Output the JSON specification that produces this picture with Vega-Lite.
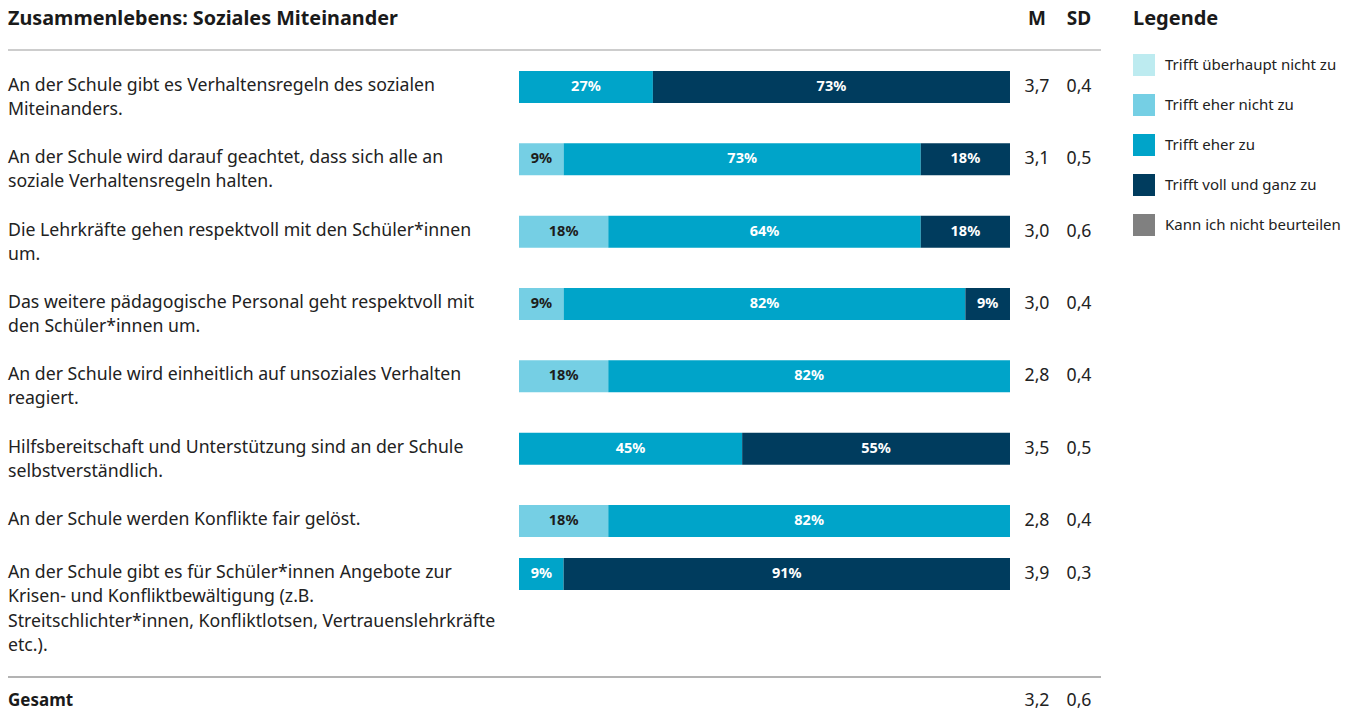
{
  "$schema": "https://vega.github.io/schema/vega-lite/v6.json",
  "padding": 0,
  "background": "white",
  "spacing": 0,
  "bounds": "flush",
  "config": {
    "view": {"stroke": null},
    "font": "Noto Sans",
    "locale": {"number": {"decimal": ",", "thousands": ".", "grouping": [3], "currency": ["", " €"]}}
  },
  "resolve": {"scale": {"color": "shared"}, "legend": {"color": "shared"}},
  "datasets": {
    "bars": [
      {"nr": 1, "k": 3, "cat": "Trifft eher zu", "pct": 0.2727},
      {"nr": 1, "k": 4, "cat": "Trifft voll und ganz zu", "pct": 0.7273},
      {"nr": 2, "k": 2, "cat": "Trifft eher nicht zu", "pct": 0.0909},
      {"nr": 2, "k": 3, "cat": "Trifft eher zu", "pct": 0.7273},
      {"nr": 2, "k": 4, "cat": "Trifft voll und ganz zu", "pct": 0.1818},
      {"nr": 3, "k": 2, "cat": "Trifft eher nicht zu", "pct": 0.1818},
      {"nr": 3, "k": 3, "cat": "Trifft eher zu", "pct": 0.6364},
      {"nr": 3, "k": 4, "cat": "Trifft voll und ganz zu", "pct": 0.1818},
      {"nr": 4, "k": 2, "cat": "Trifft eher nicht zu", "pct": 0.0909},
      {"nr": 4, "k": 3, "cat": "Trifft eher zu", "pct": 0.8182},
      {"nr": 4, "k": 4, "cat": "Trifft voll und ganz zu", "pct": 0.0909},
      {"nr": 5, "k": 2, "cat": "Trifft eher nicht zu", "pct": 0.1818},
      {"nr": 5, "k": 3, "cat": "Trifft eher zu", "pct": 0.8182},
      {"nr": 6, "k": 3, "cat": "Trifft eher zu", "pct": 0.4545},
      {"nr": 6, "k": 4, "cat": "Trifft voll und ganz zu", "pct": 0.5455},
      {"nr": 7, "k": 2, "cat": "Trifft eher nicht zu", "pct": 0.1818},
      {"nr": 7, "k": 3, "cat": "Trifft eher zu", "pct": 0.8182},
      {"nr": 8, "k": 3, "cat": "Trifft eher zu", "pct": 0.0909},
      {"nr": 8, "k": 4, "cat": "Trifft voll und ganz zu", "pct": 0.9091}
    ],
    "items": [
      {"nr": 1, "q": "An der Schule gibt es Verhaltensregeln des sozialen\nMiteinanders.", "M": 3.7, "SD": 0.4},
      {"nr": 2, "q": "An der Schule wird darauf geachtet, dass sich alle an\nsoziale Verhaltensregeln halten.", "M": 3.1, "SD": 0.5},
      {"nr": 3, "q": "Die Lehrkräfte gehen respektvoll mit den Schüler*innen\num.", "M": 3.0, "SD": 0.6},
      {"nr": 4, "q": "Das weitere pädagogische Personal geht respektvoll mit\nden Schüler*innen um.", "M": 3.0, "SD": 0.4},
      {"nr": 5, "q": "An der Schule wird einheitlich auf unsoziales Verhalten\nreagiert.", "M": 2.8, "SD": 0.4},
      {"nr": 6, "q": "Hilfsbereitschaft und Unterstützung sind an der Schule\nselbstverständlich.", "M": 3.5, "SD": 0.5},
      {"nr": 7, "q": "An der Schule werden Konflikte fair gelöst.", "M": 2.8, "SD": 0.4},
      {"nr": 8, "q": "An der Schule gibt es für Schüler*innen Angebote zur\nKrisen- und Konfliktbewältigung (z.B.\nStreitschlichter*innen, Konfliktlotsen, Vertrauenslehrkräfte\netc.).", "M": 3.9, "SD": 0.3}
    ],
    "total": [{"label": "Gesamt", "M": 3.2, "SD": 0.6}],
    "header": [{"title": "Zusammenlebens: Soziales Miteinander", "m": "M", "sd": "SD"}]
  },
  "vconcat": [
    {
      "width": 1352,
      "height": 50,
      "data": {"name": "header"},
      "layer": [
        {
          "mark": {"type": "text", "align": "left", "baseline": "middle", "fontSize": 19.8, "fontWeight": "bold", "color": "#1a1a1a"},
          "encoding": {
            "x": {"datum": -1.04073, "type": "quantitative", "scale": {"domain": [-1.05703, 1.69654], "nice": false, "zero": false}, "axis": null},
            "y": {"datum": 0.63, "type": "quantitative", "scale": {"domain": [0, 1], "nice": false}, "axis": null},
            "text": {"field": "title"}
          }
        },
        {
          "mark": {"type": "text", "align": "center", "baseline": "middle", "fontSize": 19, "fontWeight": "bold", "color": "#1a1a1a"},
          "encoding": {
            "x": {"datum": 1.05499, "type": "quantitative", "scale": {"domain": [-1.05703, 1.69654], "nice": false, "zero": false}, "axis": null},
            "y": {"datum": 0.63, "type": "quantitative", "scale": {"domain": [0, 1], "nice": false}, "axis": null},
            "text": {"field": "m"}
          }
        },
        {
          "mark": {"type": "text", "align": "center", "baseline": "middle", "fontSize": 19, "fontWeight": "bold", "color": "#1a1a1a"},
          "encoding": {
            "x": {"datum": 1.14053, "type": "quantitative", "scale": {"domain": [-1.05703, 1.69654], "nice": false, "zero": false}, "axis": null},
            "y": {"datum": 0.63, "type": "quantitative", "scale": {"domain": [0, 1], "nice": false}, "axis": null},
            "text": {"field": "sd"}
          }
        },
        {
          "mark": {"type": "rule", "color": "#bdbdbd", "strokeWidth": 1.5},
          "encoding": {
            "x": {"datum": -1.04073, "type": "quantitative", "scale": {"domain": [-1.05703, 1.69654], "nice": false, "zero": false}, "axis": null},
            "x2": {"datum": 1.18534},
            "y": {"datum": 0, "type": "quantitative", "scale": {"domain": [0, 1], "nice": false}, "axis": null}
          }
        }
      ]
    },
    {
      "width": 1352,
      "height": 505,
      "layer": [
        {
          "data": {"name": "bars"},
          "transform": [{"filter": "datum.nr <= 7"}],
          "mark": {"type": "bar"},
          "encoding": {
            "y": {"field": "nr", "type": "ordinal", "axis": null, "scale": {"paddingInner": 0.5576, "paddingOuter": 0.2698, "align": 0.538}},
            "x": {"field": "pct", "type": "quantitative", "stack": "zero", "scale": {"domain": [-1.05703, 1.69654], "nice": false, "zero": false}, "axis": null},
            "order": {"field": "k"},
            "color": {
              "field": "cat", "type": "nominal",
              "scale": {"domain": ["Trifft überhaupt nicht zu", "Trifft eher nicht zu", "Trifft eher zu", "Trifft voll und ganz zu", "Kann ich nicht beurteilen"], "range": ["#bdebf0", "#75cfe4", "#00a4c9", "#003c5e", "#808080"]},
              "legend": {"title": "Legende", "orient": "none", "legendX": 1133, "legendY": 9, "symbolType": "square", "symbolSize": 484, "symbolStrokeWidth": 0, "symbolOpacity": 1, "rowPadding": 18, "labelOffset": 10, "labelFontSize": 15, "labelFont": "Noto Sans", "labelColor": "#222222", "titleFontSize": 20, "titleFont": "Noto Sans", "titleFontWeight": "bold", "titleColor": "#1a1a1a", "titlePadding": 25, "labelLimit": 300, "padding": 0}
            }
          }
        },
        {
          "data": {"name": "bars"},
          "transform": [{"filter": "datum.nr <= 7"}],
          "mark": {"type": "text", "fontSize": 14.5, "fontWeight": "bold", "baseline": "middle", "align": "center"},
          "encoding": {
            "y": {"field": "nr", "type": "ordinal", "axis": null, "scale": {"paddingInner": 0.5576, "paddingOuter": 0.2698, "align": 0.538}},
            "x": {"field": "pct", "type": "quantitative", "stack": "zero", "bandPosition": 0.5, "scale": {"domain": [-1.05703, 1.69654], "nice": false, "zero": false}, "axis": null},
            "order": {"field": "k"},
            "detail": {"field": "k"},
            "text": {"field": "pct", "format": ".0%"},
            "color": {"condition": {"test": "datum.k == 2", "value": "#1d1d1b"}, "value": "#ffffff"}
          }
        },
        {
          "data": {"name": "items"},
          "transform": [{"filter": "datum.nr <= 7"}],
          "mark": {"type": "text", "align": "left", "baseline": "line-top", "lineHeight": 24, "lineBreak": "\n", "fontSize": 17.7, "dy": 3, "color": "#222222"},
          "encoding": {
            "y": {"field": "nr", "type": "ordinal", "bandPosition": 0, "axis": null, "scale": {"paddingInner": 0.5576, "paddingOuter": 0.2698, "align": 0.538}},
            "x": {"datum": -1.04073, "type": "quantitative", "scale": {"domain": [-1.05703, 1.69654], "nice": false, "zero": false}, "axis": null},
            "text": {"field": "q"}
          }
        },
        {
          "data": {"name": "items"},
          "transform": [{"filter": "datum.nr <= 7"}],
          "mark": {"type": "text", "align": "center", "baseline": "middle", "fontSize": 17.7, "color": "#222222"},
          "encoding": {
            "y": {"field": "nr", "type": "ordinal", "axis": null, "scale": {"paddingInner": 0.5576, "paddingOuter": 0.2698, "align": 0.538}},
            "x": {"datum": 1.05499, "type": "quantitative", "scale": {"domain": [-1.05703, 1.69654], "nice": false, "zero": false}, "axis": null},
            "text": {"field": "M", "format": ".1f"}
          }
        },
        {
          "data": {"name": "items"},
          "transform": [{"filter": "datum.nr <= 7"}],
          "mark": {"type": "text", "align": "center", "baseline": "middle", "fontSize": 17.7, "color": "#222222"},
          "encoding": {
            "y": {"field": "nr", "type": "ordinal", "axis": null, "scale": {"paddingInner": 0.5576, "paddingOuter": 0.2698, "align": 0.538}},
            "x": {"datum": 1.14053, "type": "quantitative", "scale": {"domain": [-1.05703, 1.69654], "nice": false, "zero": false}, "axis": null},
            "text": {"field": "SD", "format": ".1f"}
          }
        }
      ]
    },
    {
      "width": 1352,
      "height": 122,
      "layer": [
        {
          "data": {"name": "bars"},
          "transform": [{"filter": "datum.nr == 8"}],
          "mark": {"type": "bar"},
          "encoding": {
            "y": {"field": "nr", "type": "ordinal", "axis": null, "scale": {"paddingInner": 0.6444, "paddingOuter": 0.5, "align": 0.0333}},
            "x": {"field": "pct", "type": "quantitative", "stack": "zero", "scale": {"domain": [-1.05703, 1.69654], "nice": false, "zero": false}, "axis": null},
            "order": {"field": "k"},
            "color": {
              "field": "cat", "type": "nominal",
              "scale": {"domain": ["Trifft überhaupt nicht zu", "Trifft eher nicht zu", "Trifft eher zu", "Trifft voll und ganz zu", "Kann ich nicht beurteilen"], "range": ["#bdebf0", "#75cfe4", "#00a4c9", "#003c5e", "#808080"]},
              "legend": {"title": "Legende", "orient": "none", "legendX": 1133, "legendY": 9, "symbolType": "square", "symbolSize": 484, "symbolStrokeWidth": 0, "symbolOpacity": 1, "rowPadding": 18, "labelOffset": 10, "labelFontSize": 15, "labelFont": "Noto Sans", "labelColor": "#222222", "titleFontSize": 20, "titleFont": "Noto Sans", "titleFontWeight": "bold", "titleColor": "#1a1a1a", "titlePadding": 25, "labelLimit": 300, "padding": 0}
            }
          }
        },
        {
          "data": {"name": "bars"},
          "transform": [{"filter": "datum.nr == 8"}],
          "mark": {"type": "text", "fontSize": 14.5, "fontWeight": "bold", "baseline": "middle", "align": "center"},
          "encoding": {
            "y": {"field": "nr", "type": "ordinal", "axis": null, "scale": {"paddingInner": 0.6444, "paddingOuter": 0.5, "align": 0.0333}},
            "x": {"field": "pct", "type": "quantitative", "stack": "zero", "bandPosition": 0.5, "scale": {"domain": [-1.05703, 1.69654], "nice": false, "zero": false}, "axis": null},
            "order": {"field": "k"},
            "detail": {"field": "k"},
            "text": {"field": "pct", "format": ".0%"},
            "color": {"condition": {"test": "datum.k == 2", "value": "#1d1d1b"}, "value": "#ffffff"}
          }
        },
        {
          "data": {"name": "items"},
          "transform": [{"filter": "datum.nr == 8"}],
          "mark": {"type": "text", "align": "left", "baseline": "line-top", "lineHeight": 24.3, "lineBreak": "\n", "fontSize": 17.7, "dy": 3, "color": "#222222"},
          "encoding": {
            "y": {"field": "nr", "type": "ordinal", "bandPosition": 0, "axis": null, "scale": {"paddingInner": 0.6444, "paddingOuter": 0.5, "align": 0.0333}},
            "x": {"datum": -1.04073, "type": "quantitative", "scale": {"domain": [-1.05703, 1.69654], "nice": false, "zero": false}, "axis": null},
            "text": {"field": "q"}
          }
        },
        {
          "data": {"name": "items"},
          "transform": [{"filter": "datum.nr == 8"}],
          "mark": {"type": "text", "align": "center", "baseline": "middle", "fontSize": 17.7, "color": "#222222"},
          "encoding": {
            "y": {"field": "nr", "type": "ordinal", "axis": null, "scale": {"paddingInner": 0.6444, "paddingOuter": 0.5, "align": 0.0333}},
            "x": {"datum": 1.05499, "type": "quantitative", "scale": {"domain": [-1.05703, 1.69654], "nice": false, "zero": false}, "axis": null},
            "text": {"field": "M", "format": ".1f"}
          }
        },
        {
          "data": {"name": "items"},
          "transform": [{"filter": "datum.nr == 8"}],
          "mark": {"type": "text", "align": "center", "baseline": "middle", "fontSize": 17.7, "color": "#222222"},
          "encoding": {
            "y": {"field": "nr", "type": "ordinal", "axis": null, "scale": {"paddingInner": 0.6444, "paddingOuter": 0.5, "align": 0.0333}},
            "x": {"datum": 1.14053, "type": "quantitative", "scale": {"domain": [-1.05703, 1.69654], "nice": false, "zero": false}, "axis": null},
            "text": {"field": "SD", "format": ".1f"}
          }
        }
      ]
    },
    {
      "width": 1352,
      "height": 44,
      "data": {"name": "total"},
      "layer": [
        {
          "mark": {"type": "rule", "color": "#9a9a9a", "strokeWidth": 1.5},
          "encoding": {
            "x": {"datum": -1.04073, "type": "quantitative", "scale": {"domain": [-1.05703, 1.69654], "nice": false, "zero": false}, "axis": null},
            "x2": {"datum": 1.18534},
            "y": {"datum": 1, "type": "quantitative", "scale": {"domain": [0, 1], "nice": false}, "axis": null}
          }
        },
        {
          "mark": {"type": "text", "align": "left", "baseline": "middle", "fontSize": 17, "fontWeight": "bold", "color": "#1a1a1a"},
          "encoding": {
            "x": {"datum": -1.04073, "type": "quantitative", "scale": {"domain": [-1.05703, 1.69654], "nice": false, "zero": false}, "axis": null},
            "y": {"datum": 0.4545, "type": "quantitative", "scale": {"domain": [0, 1], "nice": false}, "axis": null},
            "text": {"field": "label"}
          }
        },
        {
          "mark": {"type": "text", "align": "center", "baseline": "middle", "fontSize": 17.7, "color": "#222222"},
          "encoding": {
            "x": {"datum": 1.05499, "type": "quantitative", "scale": {"domain": [-1.05703, 1.69654], "nice": false, "zero": false}, "axis": null},
            "y": {"datum": 0.4545, "type": "quantitative", "scale": {"domain": [0, 1], "nice": false}, "axis": null},
            "text": {"field": "M", "format": ".1f"}
          }
        },
        {
          "mark": {"type": "text", "align": "center", "baseline": "middle", "fontSize": 17.7, "color": "#222222"},
          "encoding": {
            "x": {"datum": 1.14053, "type": "quantitative", "scale": {"domain": [-1.05703, 1.69654], "nice": false, "zero": false}, "axis": null},
            "y": {"datum": 0.4545, "type": "quantitative", "scale": {"domain": [0, 1], "nice": false}, "axis": null},
            "text": {"field": "SD", "format": ".1f"}
          }
        }
      ]
    }
  ]
}
